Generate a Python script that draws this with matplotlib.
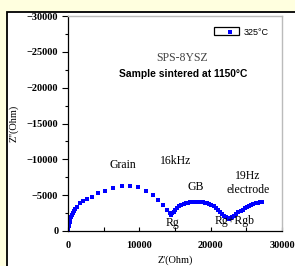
import matplotlib
matplotlib.use("Agg")
import matplotlib.pyplot as plt
from matplotlib.patches import Rectangle
from matplotlib.ticker import MultipleLocator

# Data (Z' in Ohm, Z'' in Ohm)
grain_x = [30, 60, 100, 150, 220, 300, 400, 520, 650, 800, 1000, 1250, 1650, 2150,
           2700, 3350, 4250, 5200, 6350, 7550, 8700, 9850, 11000, 11950, 12650,
           13350, 13900, 14300, 14450]
grain_y = [-100, -400, -700, -1000, -1300, -1600, -1900, -2200, -2500, -2800, -3100,
           -3400, -3850, -4150, -4450, -4750, -5250, -5650, -6050, -6300, -6280,
           -6100, -5650, -5050, -4350, -3650, -2950, -2450, -2200]
gb_x = [14600, 14800, 15050, 15300, 15600, 15900, 16200, 16500, 16800, 17100, 17400,
        17700, 18000, 18300, 18600, 18900, 19200, 19500, 19800, 20100, 20400, 20700,
        21000, 21300, 21600, 21900, 22150, 22400, 22600]
gb_y = [-2450, -2700, -3000, -3250, -3450, -3620, -3760, -3870, -3950, -4020, -4060,
        -4080, -4090, -4090, -4070, -4030, -3970, -3880, -3760, -3610, -3430, -3220,
        -2980, -2700, -2420, -2150, -1950, -1800, -1720]
el_x = [22800, 23050, 23300, 23600, 23900, 24200, 24500, 24800, 25100, 25400, 25700,
        26000, 26300, 26600, 26900, 27200]
el_y = [-1780, -1950, -2150, -2400, -2600, -2800, -3000, -3170, -3330, -3480, -3620,
        -3740, -3850, -3950, -4030, -4080]

x_ticks = [0, 10000, 20000, 30000]
y_ticks = [0, -5000, -10000, -15000, -20000, -25000, -30000]

serif = "Liberation Serif"
sans = "Liberation Sans"

fig = plt.figure(figsize=(2.95, 2.66), dpi=100, facecolor="#FFFFDF")
# inner white panel with black frame
fig.patches.append(Rectangle((7 / 295, -0.05), 1.0, (266 - 12) / 266 + 0.05,
                             transform=fig.transFigure, facecolor="white",
                             edgecolor="black", linewidth=1.3, zorder=-5))

ax = fig.add_axes([68 / 295, (266 - 231) / 266, (282 - 68) / 295, (231 - 16) / 266])
ax.set_zorder(2)
ax.set_facecolor("white")

all_x = grain_x + gb_x + el_x
all_y = grain_y + gb_y + el_y
ax.plot(all_x, all_y, linestyle="none", marker="s", markersize=2.8,
        color="#0000FF", markeredgewidth=0, label="325°C", zorder=2)

ax.set_xlim(0, 30000)
ax.set_ylim(0, -30000)
ax.set_xticks(x_ticks)
ax.set_yticks(y_ticks)
ax.xaxis.set_minor_locator(MultipleLocator(5000))
ax.yaxis.set_minor_locator(MultipleLocator(2500))
ax.tick_params(axis="x", which="both", direction="in", length=3, width=0.8, pad=7)
ax.tick_params(axis="y", which="major", direction="out", length=4.5, width=0.8, pad=2.5)
ax.tick_params(axis="y", which="minor", direction="out", length=2.5, width=0.8)
for lbl in ax.get_xticklabels() + ax.get_yticklabels():
    lbl.set_fontfamily(serif)
    lbl.set_fontweight("bold")
    lbl.set_fontsize(7.5)

for s in ["top", "right"]:
    ax.spines[s].set_color("#BBBBBB")
    ax.spines[s].set_linewidth(1.0)
for s in ["left", "bottom"]:
    ax.spines[s].set_color("black")
    ax.spines[s].set_linewidth(0.9)

ax.set_xlabel("Z'(Ohm)", fontfamily=serif, fontsize=7.5, labelpad=4)
ax.set_ylabel("Z''(Ohm)", fontfamily=serif, fontsize=7.5, labelpad=6)

ax.text(0.535, 0.805, "SPS-8YSZ", transform=ax.transAxes, ha="center", va="center",
        fontfamily=serif, fontsize=8.5, color="#444444")
ax.text(0.54, 0.730, "Sample sintered at 1150\u00b0C", transform=ax.transAxes,
        ha="center", va="center", fontfamily=sans, fontsize=7.4, fontweight="bold")

notes = [("Grain", 7710, -9200), ("16kHz", 15150, -9760), ("GB", 17950, -6140),
         ("19Hz", 25250, -7670), ("electrode", 25250, -5720), ("Rg", 14590, -1120),
         ("Rg+Rgb", 23420, -1390)]
for t, x, y in notes:
    ax.text(x, y, t, ha="center", va="center", fontfamily=serif, fontsize=8.5,
            zorder=5)

leg = ax.legend(loc="upper right", bbox_to_anchor=(0.965, 0.975), frameon=False,
                handlelength=1.0, handletextpad=1.0, borderpad=0.2,
                prop={"family": sans, "size": 6.5})
ax.add_patch(Rectangle((0.682, 0.912), 0.117, 0.037, transform=ax.transAxes,
                       facecolor="none", edgecolor="black", linewidth=0.9))

fig.savefig("out.png", dpi=100, facecolor=fig.get_facecolor())
